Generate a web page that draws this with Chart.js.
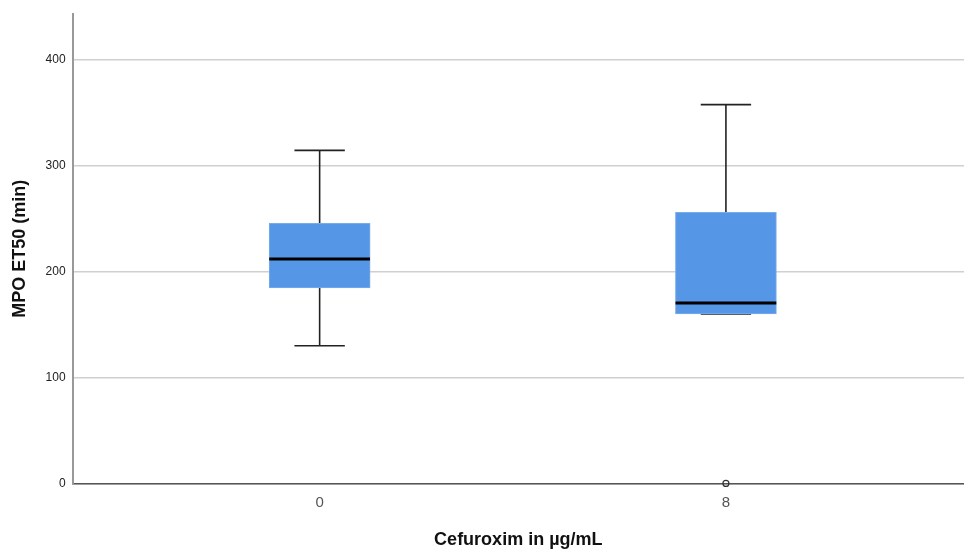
<!DOCTYPE html>
<html>
<head>
<meta charset="utf-8">
<script src="https://cdn.jsdelivr.net/npm/chart.js@4"></script>
<style>
  body { margin: 0; background: #fff; }
</style>
</head>
<body>
<canvas id="chart" width="964" height="553"></canvas>
<script>
// values
const categories = ['0', '8'];
const whiskerLow = [130, 160];
const q1 = [184.5, 160];
const median = [211.8, 170.4];
const q3 = [245.6, 256];
const whiskerHigh = [314.4, 357.6];
const outliers = [{ group: 1, value: 0 }];
const yTicks = [0, 100, 200, 300, 400];

const capHalf = 0.062;
const medHalf = 0.124;

// build segment lists, null point breaks the line
function segments(list) {
  const out = [];
  list.forEach(s => {
    out.push({ x: s[0], y: s[1] }, { x: s[2], y: s[3] }, { x: s[2], y: null });
  });
  return out;
}

const whiskerSegs = [];
const medianSegs = [];
categories.forEach((c, i) => {
  whiskerSegs.push([i, q3[i], i, whiskerHigh[i]]);
  whiskerSegs.push([i, whiskerLow[i], i, q1[i]]);
  whiskerSegs.push([i - capHalf, whiskerHigh[i], i + capHalf, whiskerHigh[i]]);
  whiskerSegs.push([i - capHalf, whiskerLow[i], i + capHalf, whiskerLow[i]]);
  medianSegs.push([i - medHalf, median[i], i + medHalf, median[i]]);
});

const ctx = document.getElementById('chart').getContext('2d');
new Chart(ctx, {
  type: 'bar',
  data: {
    datasets: [
      {
        type: 'line',
        data: segments(medianSegs),
        borderColor: '#000',
        borderWidth: 3,
        pointRadius: 0,
        spanGaps: false,
        order: 0
      },
      {
        type: 'bar',
        data: categories.map((c, i) => ({ x: i, y: [q1[i], q3[i]] })),
        backgroundColor: '#5596e6',
        borderColor: '#7aacec',
        borderWidth: 1,
        borderSkipped: false,
        barThickness: 101,
        order: 1
      },
      {
        type: 'line',
        data: segments(whiskerSegs),
        borderColor: '#222',
        borderWidth: 1.6,
        pointRadius: 0,
        spanGaps: false,
        order: 2
      },
      {
        type: 'scatter',
        data: outliers.map(o => ({ x: o.group, y: o.value })),
        pointStyle: 'circle',
        pointRadius: 3,
        backgroundColor: 'rgba(0,0,0,0)',
        borderColor: '#333',
        borderWidth: 1.2,
        clip: false,
        order: 3
      }
    ]
  },
  options: {
    responsive: false,
    animation: false,
    layout: { autoPadding: false, padding: { left: 9, top: 12, right: 0, bottom: 2 } },
    plugins: { legend: { display: false }, tooltip: { enabled: false } },
    scales: {
      x: {
        type: 'linear',
        offset: false,
        min: -0.608,
        max: 1.586,
        afterBuildTicks: s => { s.ticks = categories.map((c, i) => ({ value: i })); },
        ticks: {
          callback: v => categories[v],
          color: '#555',
          font: { family: 'Liberation Sans', size: 15 },
          padding: 10
        },
        grid: { display: false, drawTicks: false },
        border: { color: '#555', width: 1.5 },
        title: {
          display: true,
          text: 'Cefuroxim in µg/mL',
          color: '#111',
          font: { family: 'Liberation Sans', size: 18, weight: 'bold' },
          padding: { top: 8, bottom: 0 }
        }
      },
      y: {
        min: 0,
        max: 443,
        afterBuildTicks: s => { s.ticks = yTicks.map(v => ({ value: v })); },
        ticks: {
          color: '#222',
          font: { family: 'Liberation Sans', size: 12 },
          padding: 7
        },
        grid: { color: '#d0d0d0', lineWidth: 1.5, drawTicks: false },
        border: { color: '#999', width: 2 },
        title: {
          display: true,
          text: 'MPO ET50 (min)',
          color: '#111',
          font: { family: 'Liberation Sans', size: 18, weight: 'bold' },
          padding: { top: 0, bottom: 8 }
        }
      }
    }
  }
});
</script>
</body>
</html>
